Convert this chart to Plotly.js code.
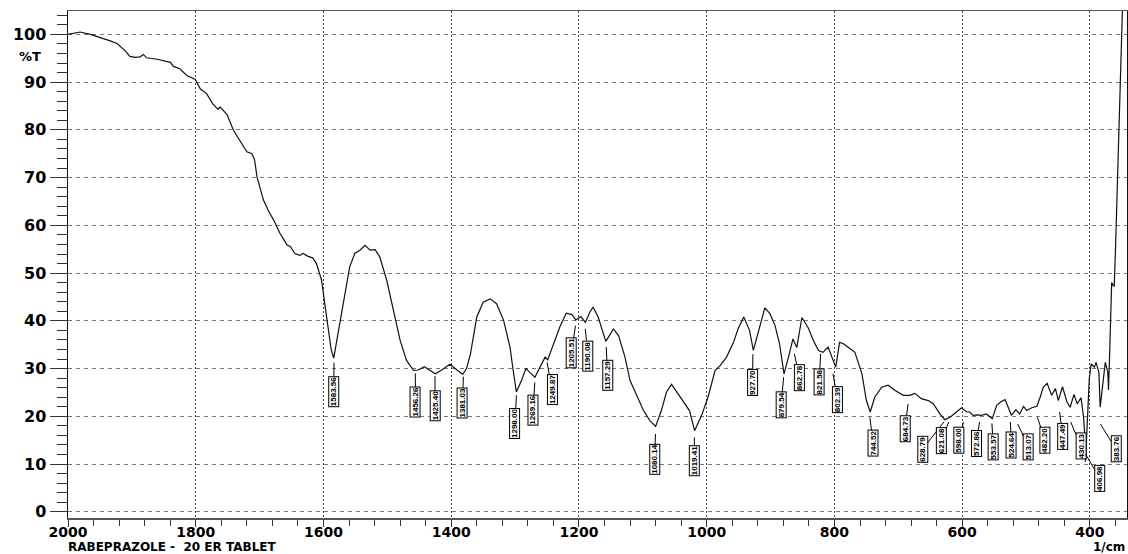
<!DOCTYPE html>
<html>
<head>
<meta charset="utf-8">
<script src="https://cdn.plot.ly/plotly-3.0.1.min.js"></script>
<style>html,body{margin:0;padding:0;background:#fff;}#chart{width:1128px;height:554px;}</style>
</head>
<body>
<div id="chart"></div>
<script>
// ---- Data ----
const wavenumber = [
  2000,1990,1981,1965,1950,1935,1923,1910,1903,1895,1887,1882,1877,1860,1845,1840,1835,1825,1814,1801,
  1793,1783,1773,1765,1762,1755,1751,1741,1731,1720,1712,1708,1704,1694,1686,1678,1668,1657,1652,1645,
  1637,1632,1624,1617,1611,1603,1598,1592,1588,1584,1579,1569,1559,1551,1543,1535,1527,1519,1512,1501,
  1491,1480,1470,1459,1452,1442,1433,1425,1415,1402,1391,1382,1376,1370,1360,1350,1339,1329,1318,1308,
  1303,1298,1290,1283,1277,1269,1261,1253,1249,1240,1230,1220,1211,1205,1197,1190,1183,1178,1170,1158,
  1146,1138,1128,1120,1110,1099,1089,1080,1071,1063,1055,1047,1037,1027,1019,1008,998,987,979,969,
  958,951,942,933,927,919,909,901,893,886,879,872,865,859,851,841,833,825,818,810,
  802,798,792,786,776,768,757,750,744,737,726,716,705,692,682,674,664,653,645,635,
  627,619,609,601,593,588,583,577,570,562,553,546,540,533,528,523,516,510,504,499,
  491,483,478,473,467,460,454,449.5,443,436,431,425,420,414,410,408,407,404,401,398,
  393,390.5,386,384,380,376,372,371,369.5,367.5,366,364,362,360,356,353,350.5,349
];
const transmittance = [
  100.0,100.3,100.5,100.0,99.4,98.7,98.1,96.5,95.4,95.2,95.3,95.8,95.1,94.8,94.3,94.2,93.3,92.8,91.4,90.6,
  88.6,87.6,85.4,84.3,84.8,83.9,83.2,79.9,77.8,75.4,75.0,73.8,70.1,65.3,63.0,61.1,58.3,55.9,55.6,54.1,
  53.7,54.1,53.5,53.2,52.0,48.5,43.6,38.0,34.0,32.2,35.9,43.6,51.3,54.1,54.8,55.8,54.8,54.9,53.4,48.5,
  42.2,35.9,31.7,29.6,29.7,30.4,29.6,28.9,29.7,30.9,29.7,28.8,30.0,33.0,40.8,43.9,44.6,43.6,40.1,34.5,
  29.6,25.1,27.5,30.0,29.2,28.2,30.3,32.4,31.8,35.2,38.7,41.6,41.3,40.2,40.9,39.7,41.8,42.9,40.8,35.7,
  38.3,36.9,32.4,27.5,24.5,21.2,19.1,17.9,21.2,25.1,26.7,25.1,23.0,21.2,17.0,20.2,24.0,29.6,30.6,32.4,
  35.5,38.3,40.8,38.0,33.8,37.6,42.7,41.5,39.0,35.2,28.9,32.4,36.2,34.4,40.7,38.5,35.9,33.8,33.4,34.5,
  31.7,30.3,35.5,35.2,34.2,33.4,28.9,23.3,20.9,24.0,26.1,26.5,25.4,24.4,24.4,24.8,23.7,23.3,22.6,20.5,
  19.3,19.8,20.9,21.8,20.9,20.9,20.2,20.3,20.2,20.5,19.5,22.3,23.0,23.5,21.9,20.2,21.4,20.5,22.1,21.2,
  21.8,22.1,24.0,26.1,26.9,24.4,25.8,23.3,26.2,23.0,21.9,24.6,22.6,23.9,19.8,16.0,10.5,20.0,28.0,31.0,
  30.3,31.3,29.2,21.9,26.8,31.3,29.2,25.5,31.7,40.0,48.0,47.5,47.2,55.0,72.0,88.0,100.0,106.0
];
const peakWavenumbers = [
  1583.56,1456.26,1425.40,1381.03,1298.00,1269.16,1249.87,1205.51,1190.08,1157.29,
  1080.14,1019.41,927.70,879.54,862.78,821.58,802.39,744.52,684.73,628.79,
  621.08,598.00,572.86,553.57,524.64,513.07,482.20,447.49,430.13,406.98,383.76
];
const peakTransmittance = [
  31.2,29.0,28.4,28.3,24.4,27.1,31.3,39.0,38.3,34.5,
  16.3,15.6,33.0,28.2,33.1,33.1,28.9,19.8,22.6,18.8,
  18.8,18.8,18.8,18.5,18.8,18.4,19.8,20.9,18.8,12.1,18.4
];
const xTickValues = [2000,1800,1600,1400,1200,1000,800,600,400];
const yTickValues = [0,10,20,30,40,50,60,70,80,90,100];

// ---- Placement of the peak label boxes (axis coordinates of box centres) ----
const labelBoxPlacement = [
  [1584,25.2],[1455.9,23.0],[1425.4,22.1],[1382.3,22.8],[1300.1,18.4],[1271.9,21.2],[1242.2,25.5],[1211.7,33.3],[1185.9,32.7],[1155.3,28.6],
  [1081.7,11.0],[1019.1,10.7],[928.3,27.1],[883.7,22.3],[854.7,28.1],[824.2,27.1],[795.2,23.5],[739.6,14.3],[689.6,17.5],[662.1,13.1],
  [633.2,14.8],[605,14.9],[578.4,14.2],[551,13.6],[522.8,14.0],[496.2,13.6],[470.3,14.9],[442.9,15.8],[414,13.7],[384.2,6.9],[359.2,13.1]
];

const tickFontX = {family: 'DejaVu Sans, Arial, sans-serif', size: 14, color: '#000', weight: 'bold'};
const tickFontY = {family: 'DejaVu Sans, Arial, sans-serif', size: 16, color: '#000', weight: 'bold'};
const textFont = {family: 'DejaVu Sans, Arial, sans-serif', size: 12, color: '#000', weight: 'bold'};

const annotations = peakWavenumbers.map((w, i) => ({
  x: w, y: peakTransmittance[i], xref: 'x', yref: 'y',
  ax: labelBoxPlacement[i][0], ay: labelBoxPlacement[i][1], axref: 'x', ayref: 'y',
  text: w.toFixed(2), textangle: -90, showarrow: true, arrowhead: 0, arrowwidth: 1,
  arrowcolor: '#000', standoff: 0, startstandoff: 0,
  font: {family: 'Liberation Sans Narrow, Arial Narrow, sans-serif', size: 8, color: '#000', weight: 'bold'},
  bordercolor: '#000', borderwidth: 1, borderpad: 0, bgcolor: '#fff'
}));
annotations.push(
  {xref: 'paper', yref: 'paper', x: -0.024, y: 0.911, xanchor: 'right', yanchor: 'middle', showarrow: false,
   text: '%T', font: {family: 'DejaVu Sans, Arial, sans-serif', size: 13, color: '#000', weight: 'bold'}},
  {xref: 'paper', yref: 'paper', x: -0.002, y: -0.057, xanchor: 'left', yanchor: 'middle', showarrow: false,
   text: 'RABEPRAZOLE -  20 ER TABLET', font: textFont},
  {xref: 'paper', yref: 'paper', x: 1.0, y: -0.057, xanchor: 'right', yanchor: 'middle', showarrow: false,
   text: '1/cm', font: textFont}
);

const trace = {
  x: wavenumber, y: transmittance, type: 'scatter', mode: 'lines',
  line: {color: '#111', width: 1.2}, hoverinfo: 'x+y', cliponaxis: true
};

const layout = {
  width: 1128, height: 554,
  margin: {l: 68, r: 1, t: 11, b: 36},
  paper_bgcolor: '#fff', plot_bgcolor: '#fff',
  showlegend: false,
  xaxis: {
    range: [2000, 342], tickvals: xTickValues, ticktext: xTickValues.map(String),
    ticks: 'outside', ticklen: 7, tickwidth: 1, tickcolor: '#333',
    minor: {dtick: 40, tick0: 2000, ticks: 'outside', ticklen: 6, tickcolor: '#333', showgrid: false},
    showgrid: true, gridcolor: '#444', griddash: '2px,2px', gridwidth: 1,
    showline: true, linecolor: '#555', linewidth: 1.5, mirror: true,
    zeroline: false, tickfont: tickFontX, ticklabelstandoff: -6
  },
  yaxis: {
    range: [-1.3, 104.9], tickvals: yTickValues, ticktext: yTickValues.map(String),
    ticks: 'outside', ticklen: 17, tickwidth: 1, tickcolor: '#333',
    minor: {dtick: 2, tick0: 0, ticks: 'outside', ticklen: 10, tickcolor: '#333', showgrid: false},
    showgrid: true, gridcolor: '#777', griddash: '4px,4px', gridwidth: 1,
    showline: true, linecolor: '#111', linewidth: 1.5, mirror: true,
    zeroline: false, tickfont: tickFontY
  },
  annotations: annotations
};

Plotly.newPlot('chart', [trace], layout, {displayModeBar: false, staticPlot: true});
</script>
</body>
</html>
